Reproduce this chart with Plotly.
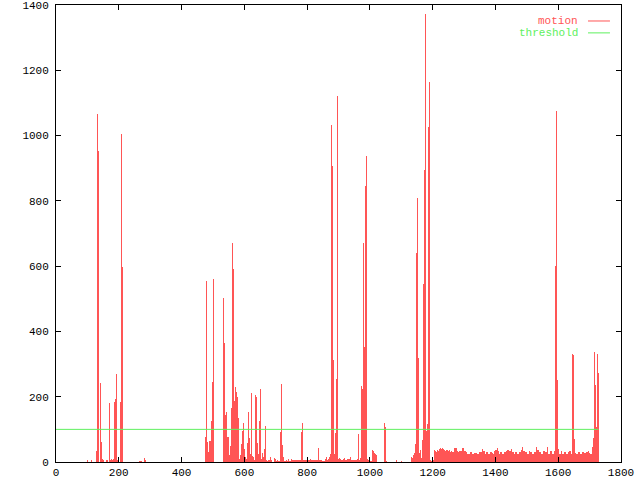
import plotly.graph_objects as go

# --- data: motion per frame (sparse events before frame 1206) ---
event_frames = [100, 113, 129, 132, 135, 142, 145, 148, 151, 161, 164, 170, 174, 177, 180, 183, 186, 190, 193, 196,
                205, 209, 212, 266, 269, 272, 282, 285,
                476, 479, 483, 486, 489, 492, 495, 499, 502,
                534, 537, 540, 543, 546, 550, 553, 556, 559, 562, 565, 569, 572, 575, 578, 581, 585, 588, 591, 594,
                597, 601, 604, 607, 610, 613, 616, 620, 623, 626, 629, 632, 636, 639, 642, 645, 648, 651, 655, 658,
                661, 664, 667, 671, 674, 677, 680, 683, 687, 696, 699, 702, 706, 709, 712,
                715, 718, 722, 725, 728, 731, 734, 737, 741, 744, 747, 750, 753, 757, 760, 763, 766, 769, 773, 776,
                779, 782, 785, 788, 792, 795, 798, 801, 804, 808, 811, 814, 817, 820, 824, 827, 830, 833, 836, 839,
                843, 846, 849, 852, 855, 859, 862, 865, 868, 871, 874, 878, 881, 884, 887, 890, 894, 897, 900, 903,
                906, 910, 913, 916, 919, 922, 925, 929, 932, 935, 938, 941, 945, 948, 951, 954, 957, 961, 964, 967,
                970, 973, 976, 980, 983, 986, 989, 992, 996, 999, 1002, 1005, 1008, 1011, 1015, 1018, 1021,
                1047, 1050, 1053, 1085, 1101, 1133, 1136, 1139, 1142, 1145, 1148, 1152, 1155, 1158, 1161, 1164,
                1168, 1171, 1174, 1177, 1180, 1184, 1187, 1190, 1193, 1196, 1199, 1203]
event_values = [4, 4, 35, 1066, 953, 243, 60, 8, 5, 6, 6, 182, 6, 8, 6, 9, 183, 194, 269, 6,
                183, 1004, 598, 3, 3, 3, 12, 6,
                78, 554, 62, 32, 65, 65, 126, 246, 561,
                503, 365, 144, 153, 78, 78, 21, 48, 166, 670, 591, 188, 230, 215, 200, 134, 10, 21, 55, 95,
                121, 41, 15, 10, 58, 153, 73, 24, 212, 19, 16, 6, 204, 199, 59, 24, 126, 225, 10, 28,
                16, 39, 111, 4, 2, 6, 6, 15, 6, 12, 9, 2, 5, 3, 3,
                93, 240, 52, 14, 3, 3, 6, 3, 8, 3, 3, 8, 4, 4, 4, 4, 4, 4, 4, 4,
                6, 93, 119, 6, 4, 4, 4, 4, 4, 4, 8, 4, 4, 4, 4, 4, 6, 4, 43, 6,
                6, 6, 3, 3, 3, 10, 14, 7, 8, 14, 24, 1032, 907, 312, 24, 90, 253, 1122, 9, 12,
                9, 5, 5, 9, 12, 6, 6, 9, 9, 9, 15, 7, 6, 6, 6, 6, 6, 9, 86, 6,
                13, 233, 225, 671, 353, 845, 937, 9, 4, 4, 2, 2, 37, 33, 28, 24, 20,
                119, 106, 3, 6, 3, 15, 11, 21, 29, 54, 640, 810, 319, 29, 37, 13,
                67, 544, 894, 1372, 95, 117, 1026, 1164, 5, 3, 9, 5]

# --- data: motion sampled every 3 frames from frame 1206 to 1728 ---
tail_start = 1206
tail_step = 3
tail_values = [36, 33, 31, 36, 33, 39, 42, 39, 44, 40, 38, 36, 33, 36, 38, 35, 36, 30, 35, 30,
               30, 42, 43, 43, 35, 32, 34, 31, 34, 34, 42, 42, 35, 35, 30, 24, 24, 24, 30, 30,
               24, 24, 29, 29, 27, 29, 24, 24, 30, 30, 30, 40, 35, 35, 24, 30, 30, 24, 24, 30,
               30, 27, 26, 26, 35, 37, 37, 42, 35, 26, 30, 30, 24, 24, 30, 30, 35, 35, 37, 33,
               35, 35, 40, 30, 30, 24, 30, 30, 24, 24, 30, 30, 37, 45, 35, 35, 33, 30, 30, 24,
               24, 35, 30, 30, 24, 24, 32, 32, 45, 37, 37, 30, 30, 28, 24, 24, 35, 35, 30, 30,
               45, 24, 24, 35, 35, 24, 24, 35, 600, 1075, 700, 251, 39, 24, 24, 35, 26, 26, 30, 30,
               24, 24, 30, 35, 35, 24, 320, 331, 328, 72, 27, 24, 24, 30, 30, 24, 24, 30, 30, 27,
               27, 30, 30, 35, 33, 27, 24, 24, 45, 75, 337, 236, 108, 331, 272]

threshold_value = 100

x_ticks = [0, 200, 400, 600, 800, 1000, 1200, 1400, 1600, 1800]
y_ticks = [0, 200, 400, 600, 800, 1000, 1200, 1400]

RED = "#ff5555"
GREEN = "#5ef05e"
FONT = "Liberation Mono"

tail_frames = [tail_start + tail_step * i for i in range(len(tail_values))]
frames = event_frames + tail_frames
values = event_values + tail_values

fig = go.Figure()
fig.add_trace(go.Bar(x=frames, y=values, width=0.1,
                     marker=dict(color=RED, line=dict(width=0)), name="motion"))
fig.add_trace(go.Scatter(x=[0, frames[-1]], y=[threshold_value, threshold_value], mode="lines",
                         line=dict(color=GREEN, width=1), name="threshold"))

axis_common = dict(showline=True, linecolor="black", linewidth=1, mirror="ticks",
                   ticks="inside", ticklen=5, tickcolor="black", tickwidth=1,
                   showgrid=False, zeroline=False, automargin=False,
                   ticklabeloverflow="allow",
                   tickfont=dict(family=FONT, size=11, color="black"))

fig.update_layout(
    width=640, height=480,
    margin=dict(l=56, r=19, t=5, b=18, autoexpand=False),
    paper_bgcolor="white", plot_bgcolor="white",
    showlegend=False, bargap=0, bargroupgap=0,
    xaxis=dict(range=[0, 1800], tickvals=x_ticks, ticklabelstandoff=0, **axis_common),
    yaxis=dict(range=[0, 1400], tickvals=y_ticks, ticklabelstandoff=4, **axis_common),
)

legend_items = [("motion", RED, 0.965), ("threshold", GREEN, 0.939)]
for label, color, yp in legend_items:
    fig.add_annotation(x=0.9274, y=yp, xref="paper", yref="paper", text=label, showarrow=False,
                       xanchor="right", yanchor="middle", font=dict(family=FONT, size=11, color=color))
    fig.add_shape(type="line", xref="paper", yref="paper", x0=0.9416, x1=0.9805, y0=yp, y1=yp,
                  line=dict(color=color, width=1))

fig.write_html("out.html", config={"displayModeBar": False},
               post_script="document.body.style.margin='0';")
